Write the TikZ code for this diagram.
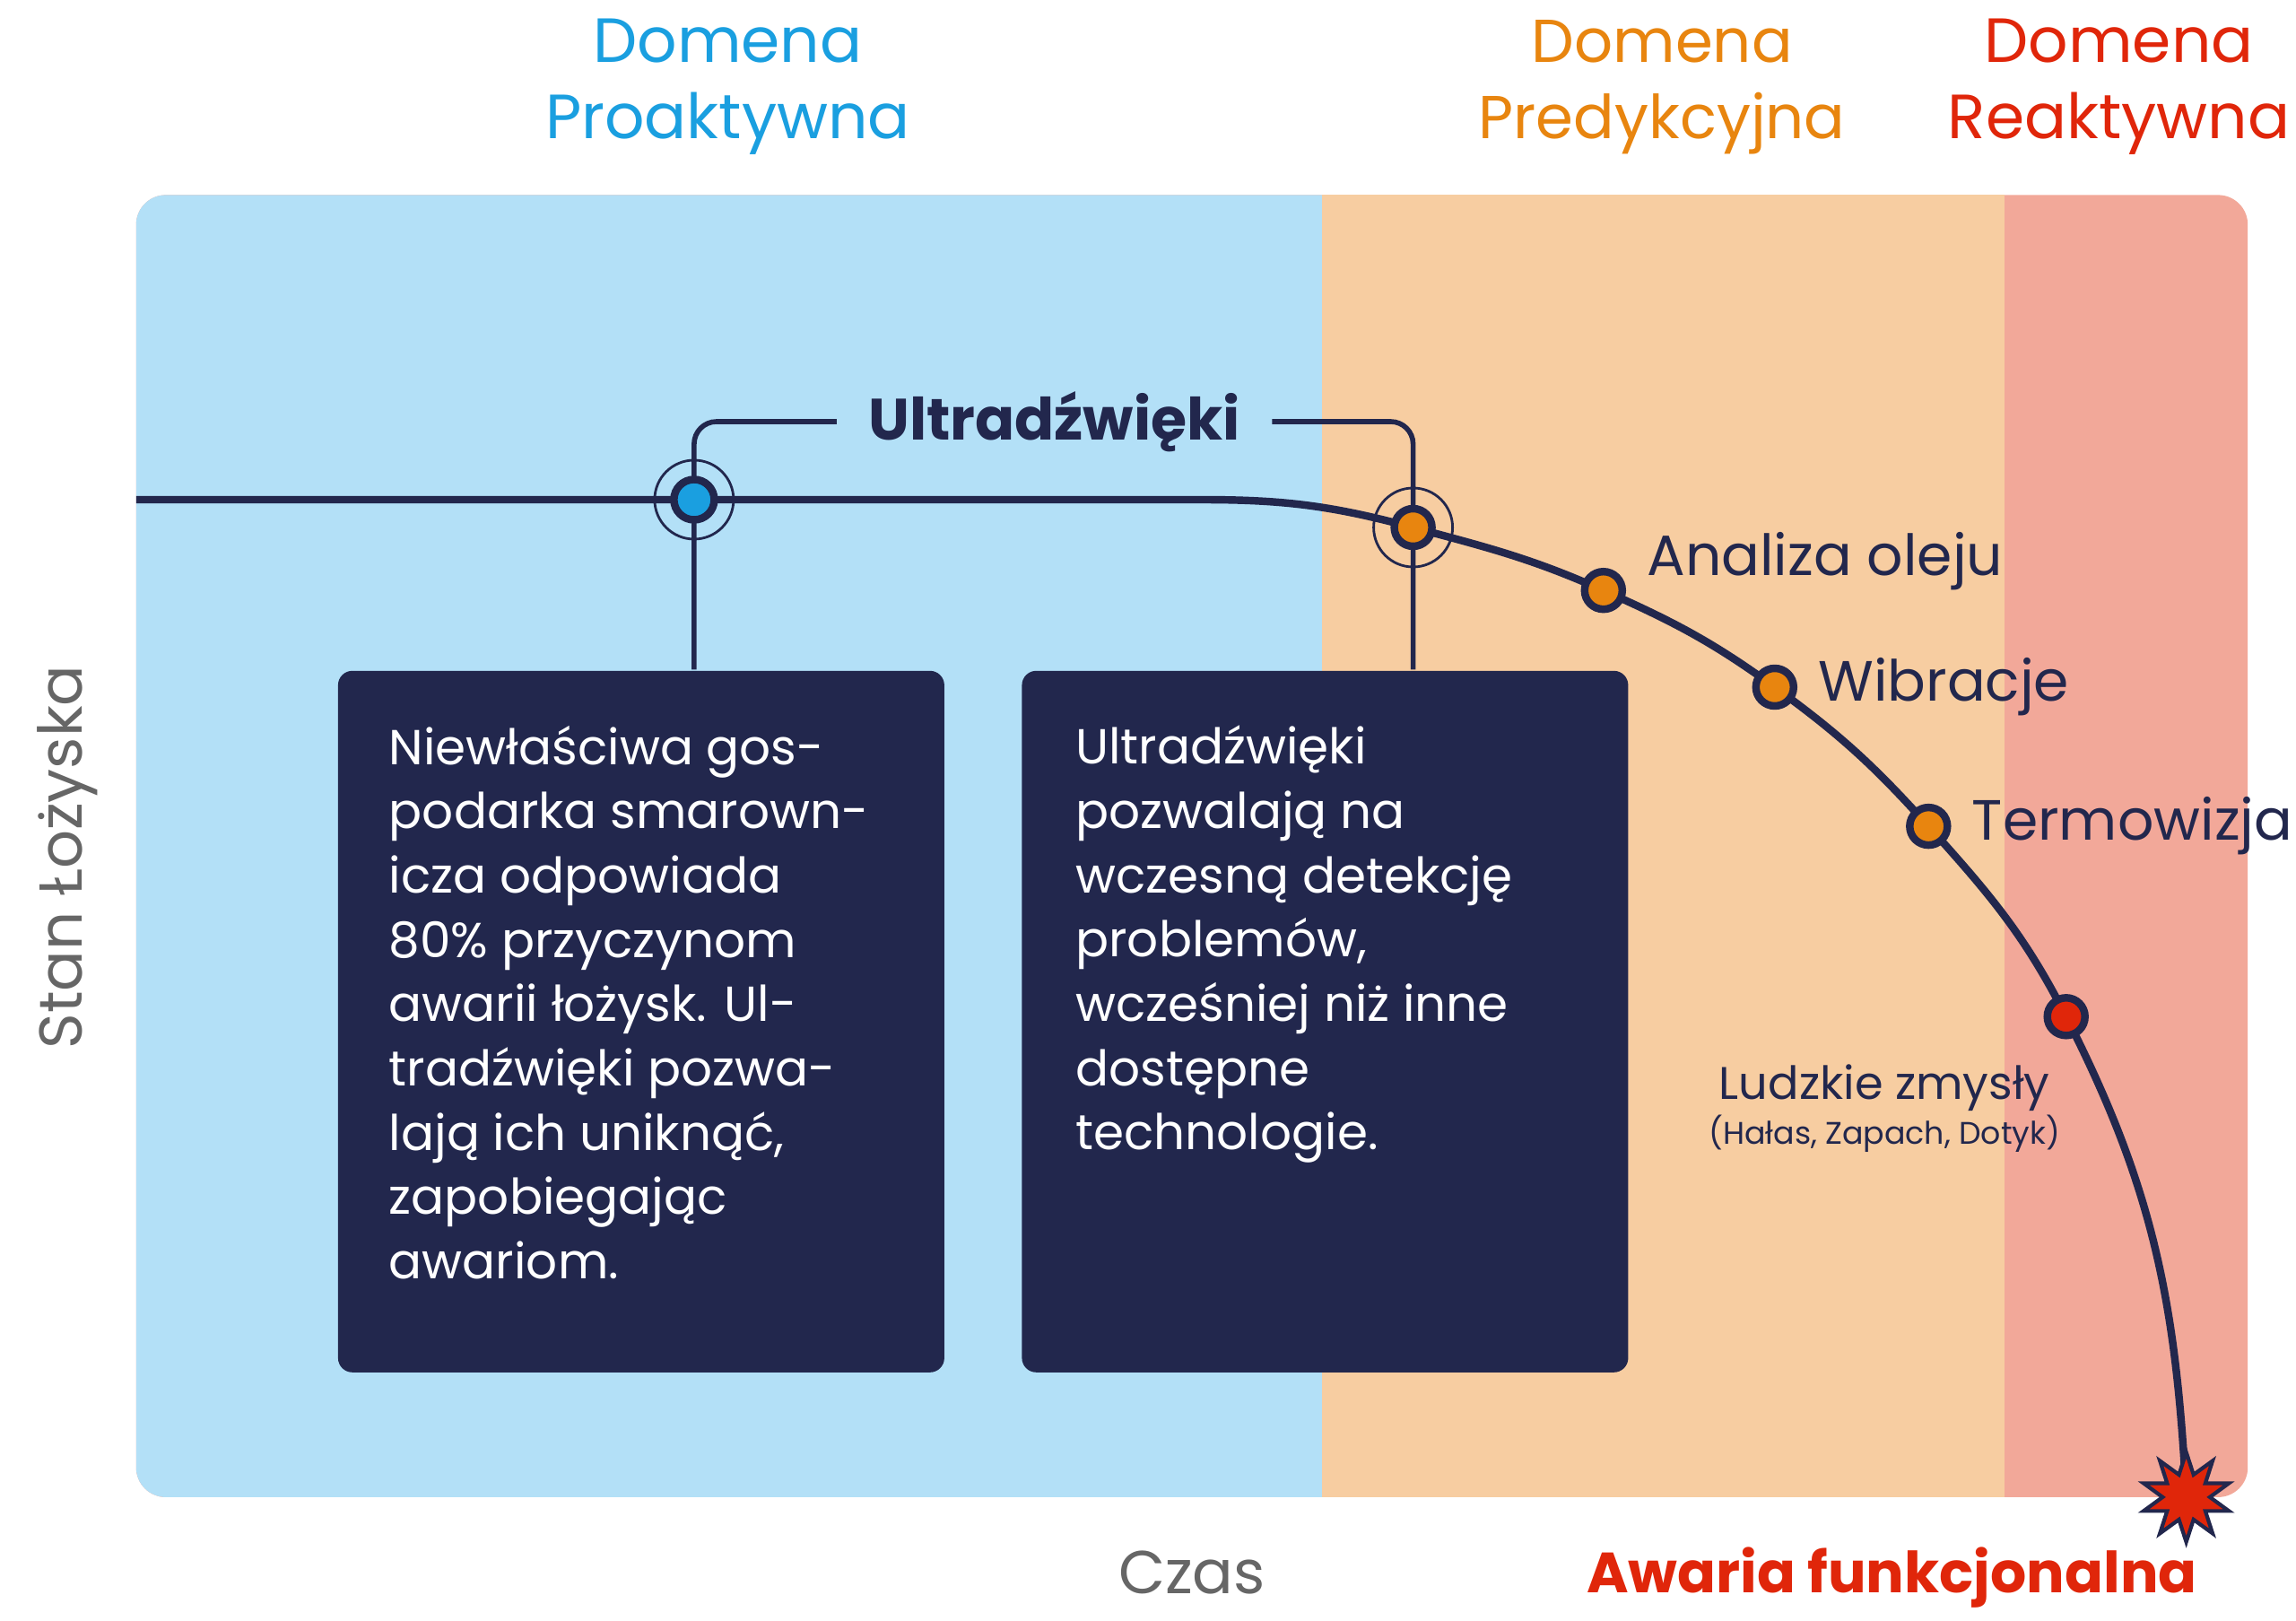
\documentclass[tikz,border=0pt]{standalone}
\usepackage{fontspec}
\setmainfont{Poppins}
\usetikzlibrary{positioning,calc,shapes.geometric}
\definecolor{navy}{HTML}{22274D}
\definecolor{bluebg}{HTML}{B3E0F7}
\definecolor{orangebg}{HTML}{F7CDA1}
\definecolor{redbg}{HTML}{F2A899}
\definecolor{bluetxt}{HTML}{1A9FE0}
\definecolor{orangetxt}{HTML}{E8850F}
\definecolor{redtxt}{HTML}{E0260A}
\definecolor{graytxt}{HTML}{666666}

\begin{document}
\begin{tikzpicture}[thick,
    dot/.style={circle,draw=navy,line width=2.4pt,minimum size=0.42cm,inner sep=0pt},
    ring/.style={circle,draw=navy,line width=0.8pt,minimum size=0.88cm,inner sep=0pt},
    infobox/.style={rectangle,fill=navy,rounded corners=0.16cm,minimum width=6.76cm,
      minimum height=7.82cm,anchor=north west,inner sep=0pt},
    boxtext/.style={text=white,align=left,inner sep=0pt,font=\fontsize{15.6}{20.4}\selectfont},
    domena/.style={align=center,font=\fontsize{19.8}{24.2}\selectfont},
    axis label/.style={text=graytxt,font=\fontsize{19.2}{24}\selectfont},
    method/.style={text=navy,inner sep=0pt,anchor=west,font=\fontsize{18}{21}\selectfont},
    bracket/.style={draw=navy,line width=1.6pt,rounded corners=0.25cm},
    curve/.style={draw=navy,line width=2.4pt}]
    \useasboundingbox (0,0) rectangle (25.6,18.06);
    % backgrounds
      \fill[redbg,rounded corners=0.33cm] (1.518,1.371) rectangle (25.062,15.886);
      \fill[bluebg,rounded corners=0.33cm] (1.518,1.371) rectangle (16,15.886);
      \fill[orangebg] (14.743,1.371) rectangle (22.352,15.886);
    % headings
      \node[domena,text=bluetxt] (hpro) at (8.115,17.09) {Domena\\Proaktywna};
      \node[domena,text=orangetxt,font=\fontsize{19.2}{24.2}\selectfont] (hpre) at (18.531,17.09) {Domena\\Predykcyjna};
      \node[domena,text=redtxt] (hrea) at (23.625,17.09) {Domena\\Reaktywna};
      \node[axis label,rotate=90] (ystate) at (0.75,8.506) {Stan Łożyska};
      \node[axis label] (xtime) at (13.290,0.53) {Czas};
      \node[text=redtxt,font=\fontsize{18}{22}\selectfont\bfseries] (failtxt) at (21.094,0.47) {Awaria funkcjonalna};
    % points on the curve
      \coordinate (lstart) at (1.518,12.490);
      \coordinate (lbend) at (13.388,12.490);
      \coordinate (cB) at (7.739,12.490);
      \coordinate (cO) at (15.756,12.180);
      \coordinate (c1) at (17.878,11.478);
      \coordinate (c2) at (19.788,10.400);
      \coordinate (c3) at (21.503,8.849);
      \coordinate (c4) at (23.037,6.727);
      \coordinate (cF) at (24.376,1.371);
    % boxes
      \node[infobox] (box1) at (3.755,10.596) {};
      \node[infobox] (box2) at (11.380,10.596) {};
      \node[boxtext] (txt1) [below right = 0.61cm and 0.57cm of box1.north west]
        {Niewłaściwa gos-\\podarka smarown-\\icza odpowiada\\80\% przyczynom\\awarii łożysk. Ul-\\tradźwięki pozwa-\\lają ich uniknąć,\\zapobiegając\\awariom.};
      \node[boxtext] (txt2) [below right = 0.61cm and 0.60cm of box2.north west]
        {Ultradźwięki\\pozwalają na\\wczesną detekcję\\problemów,\\wcześniej niż inne\\dostępne\\technologie.};
      \node[text=navy,inner xsep=0.34cm,font=\fontsize{18.5}{24}\selectfont\bfseries] (ultra) at (11.755,13.36) {Ultradźwięki};
    %edges
      \draw[bracket] (ultra.west) -| (cB |- box1.north);
      \draw[bracket] (ultra.east) -| (cO |- box2.north);
      \draw[curve] (lstart) -- (lbend) to[out=0,in=165] (cO) to[out=-15,in=156] (c1)
        to[out=-24,in=144] (c2) to[out=-36,in=132] (c3) to[out=-48,in=117] (c4)
        to[out=-63,in=93] (cF);
    % dots
      \node[ring] (rB) at (cB) {};
      \node[ring] (rO) at (cO) {};
      \node[dot,fill=bluetxt,minimum size=0.45cm] (pB) at (cB) {};
      \node[dot,fill=orangetxt] (pO) at (cO) {};
      \node[dot,fill=orangetxt] (p1) at (c1) {};
      \node[dot,fill=orangetxt] (p2) at (c2) {};
      \node[dot,fill=orangetxt] (p3) at (c3) {};
      \node[dot,fill=redtxt] (p4) at (c4) {};
      \node[star,star points=10,star point ratio=1.9,minimum size=1.0cm,inner sep=0pt,
        fill=redtxt,draw=navy,line width=1.2pt] (fail) at (cF) {};
    % labels
      \node[method] (loil) [right = 0.22cm of p1, yshift=0.33cm] {Analiza oleju};
      \node[method] (lvib) [right = 0.22cm of p2] {Wibracje};
      \node[method] (lterm) [right = 0.22cm of p3] {Termowizja};
      \node[text=navy,align=center,font=\fontsize{14.5}{14.2}\selectfont] (senses) at (21.013,5.70)
        {Ludzkie zmysły\\{\fontsize{9.9}{12}\selectfont(Hałas, Zapach, Dotyk)}};
    \end{tikzpicture}
\end{document}
